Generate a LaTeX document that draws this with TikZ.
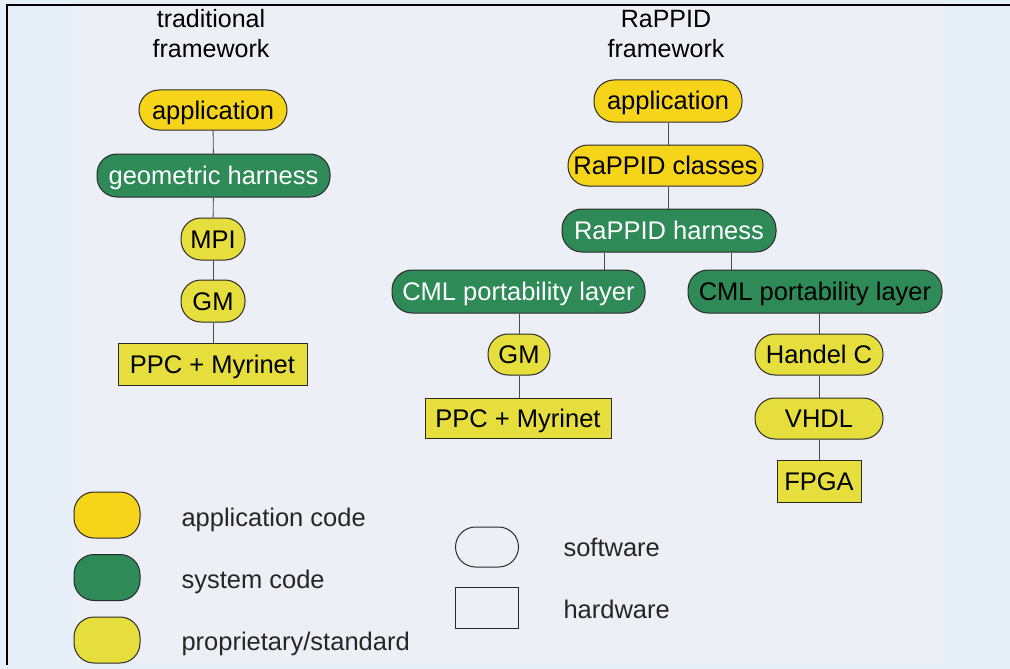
\documentclass[tikz,border=0pt]{standalone}
\usepackage{fontspec}
\setmainfont{Liberation Sans}
\definecolor{outerbg}{HTML}{E6EEF8}
\definecolor{innerbg}{HTML}{ECEFF5}
\definecolor{appy}{HTML}{F6D419}
\definecolor{propy}{HTML}{E5DE3C}
\definecolor{sysg}{HTML}{2E8A57}
\definecolor{edge}{HTML}{2A2A2A}
\definecolor{conn}{HTML}{4A4A4A}
\begin{document}
\begin{tikzpicture}[x=1pt,y=-1pt,
  base/.style={draw=edge, line width=1pt, inner sep=0pt, font=\fontsize{25.5}{30}\selectfont, text height=20pt, text depth=2pt},
  pill/.style={base, rounded rectangle},
  appnode/.style={pill, fill=appy},
  sysnode/.style={pill, fill=sysg, text=white},
  propnode/.style={pill, fill=propy},
  hwnode/.style={base, rectangle, fill=propy},
  link/.style={draw=conn, line width=0.9pt},
  ttl/.style={font=\fontsize{25}{30}\selectfont, align=center},
  lbl/.style={font=\fontsize{25.5}{30}\selectfont, anchor=west, text=black!85, text height=20pt, text depth=2pt},
  rounded rectangle/.style={rectangle, rounded corners=20pt}
]
\useasboundingbox (0,0) rectangle (1010,669);
\fill[outerbg] (0,0) rectangle (1010,669);
\fill[innerbg] (75,5) rectangle (945,663);
\draw[black, line width=1.2pt] (7,665) -- (7,5) -- (1010,5);

% titles
\node[ttl] (t1) at (211,34) {traditional\\framework};
\node[ttl] (t2) at (666,34) {RaPPID\\framework};

% left stack
\node[appnode, minimum width=148pt, minimum height=40pt] (app1) at (213,110) {application};
\node[sysnode, minimum width=233pt, minimum height=43pt] (geom) at (213.5,175.5) {geometric harness};
\node[propnode, minimum width=64pt, minimum height=42pt] (mpi) at (213,239) {MPI};
\node[propnode, minimum width=64pt, minimum height=42pt] (gm1) at (213,301) {GM};
\node[hwnode, minimum width=189pt, minimum height=42pt] (ppc1) at (212.5,364) {PPC + Myrinet};

% right stack
\node[appnode, minimum width=148pt, minimum height=42pt] (app2) at (668,101) {application};
\node[appnode, minimum width=195pt, minimum height=41pt] (cls) at (665.5,165.5) {RaPPID classes};
\node[sysnode, minimum width=214pt, minimum height=43pt] (har) at (669,230.5) {RaPPID harness};
\node[sysnode, minimum width=253pt, minimum height=43pt] (cmll) at (518.5,291.5) {CML portability layer};
\node[sysnode, text=black, minimum width=254pt, minimum height=43pt] (cmlr) at (815,291.5) {CML portability layer};
\node[propnode, minimum width=62pt, minimum height=41pt] (gm2) at (519,354.5) {GM};
\node[hwnode, minimum width=186pt, minimum height=40pt] (ppc2) at (518,418) {PPC + Myrinet};
\node[propnode, minimum width=128pt, minimum height=41pt] (hc) at (819,354.5) {Handel C};
\node[propnode, minimum width=128pt, minimum height=41pt] (vhdl) at (819,418.5) {VHDL};
\node[hwnode, minimum width=84pt, minimum height=42pt] (fpga) at (819,481) {FPGA};

\coordinate (bl) at (604,0);
\coordinate (br) at (731,0);

% connectors
\draw[link] (app1) -- (geom);
\draw[link] (geom) -- (mpi);
\draw[link] (mpi) -- (gm1);
\draw[link] (gm1) -- (ppc1.north -| gm1);
\draw[link] (app2) -- (app2 |- cls.north);
\draw[link] (cls.south -| app2) -- (har.north -| app2);
\draw[link] (har.south -| bl) -- (cmll.north -| bl);
\draw[link] (har.south -| br) -- (cmlr.north -| br);
\draw[link] (cmll.south -| gm2) -- (gm2);
\draw[link] (gm2) -- (ppc2.north -| gm2);
\draw[link] (cmlr.south -| hc) -- (hc);
\draw[link] (hc) -- (vhdl);
\draw[link] (vhdl) -- (fpga.north -| vhdl);

% legend
\node[appnode, minimum width=66pt, minimum height=46pt] (la) at (107,515) {};
\node[sysnode, minimum width=66pt, minimum height=46pt] (ls) at (107,577.5) {};
\node[propnode, minimum width=66pt, minimum height=46pt] (lp) at (107,640) {};
\node[lbl] (ta) at (178,517) {application code};
\node[lbl] (ts) at (178,579) {system code};
\node[lbl] (tp) at (178,641) {proprietary/standard};
\node[pill, minimum width=63pt, minimum height=40pt] (lsw) at (487,547) {};
\node[base, minimum width=63pt, minimum height=41pt] (lhw) at (487,607.5) {};
\node[lbl] (tsw) at (560,547) {software};
\node[lbl] (thw) at (560,609) {hardware};
\end{tikzpicture}
\end{document}
